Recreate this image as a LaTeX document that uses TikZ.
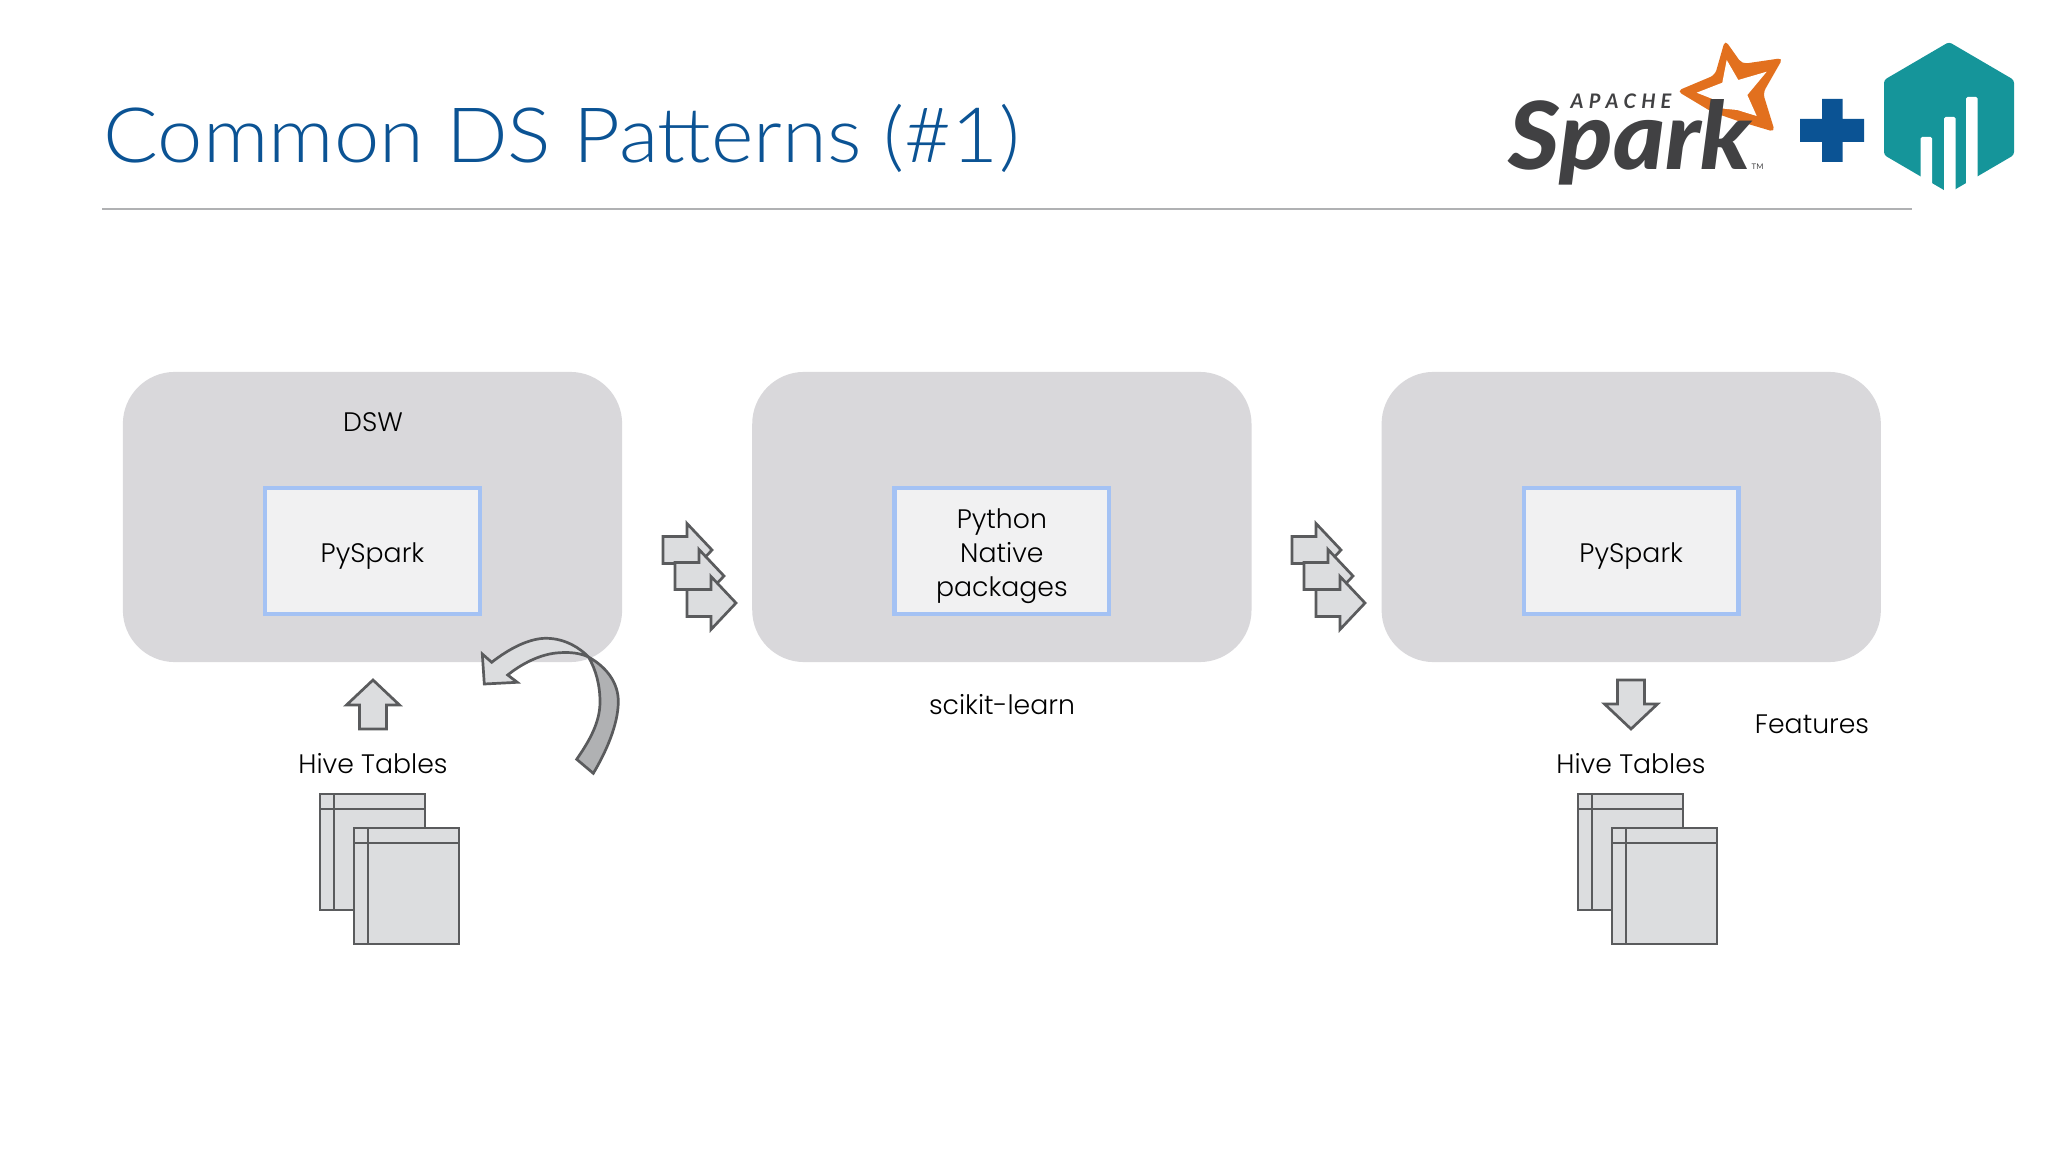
\documentclass[tikz,border=0pt]{standalone}
\usepackage{fontspec}
\usepackage{xcolor}
\usetikzlibrary{positioning}
\setmainfont{Poppins Light}
\newfontfamily\titlefont[FakeStretch=1.065]{Lato Light}
\newfontfamily\logofont[FakeStretch=1.055]{Lato Black Italic}
\newfontfamily\logosmall{Lato}
\definecolor{panelgray}{HTML}{D9D8DB}
\definecolor{boxfill}{HTML}{F1F1F2}
\definecolor{boxblue}{HTML}{A4C2F4}
\definecolor{shapeline}{HTML}{5A5B5D}
\definecolor{shapefill}{HTML}{DCDDDF}
\definecolor{foldfill}{HTML}{B0B1B3}
\definecolor{titleblue}{HTML}{0B5394}
\definecolor{sparkgray}{HTML}{414143}
\definecolor{sparkorange}{HTML}{E2701E}
\definecolor{hexteal}{HTML}{15959A}
\newcommand{\labelsize}{\fontsize{7.6}{9.67}\selectfont}
\tikzset{
    panel/.style={fill=panelgray, rounded corners=0.52cm, minimum width=4.99cm, minimum height=2.9cm, inner sep=0, outer sep=0},
    codebox/.style={draw=boxblue, fill=boxfill, line width=0.045cm, minimum width=2.145cm, minimum height=1.255cm},
    boxtext/.style={inner sep=0, align=center, yshift=-0.05cm, font=\labelsize},
    caption/.style={inner sep=0, anchor=base, font=\labelsize},
    shapeborder/.style={draw=shapeline, fill=shapefill, line width=0.027cm, line join=miter},
    blockarrow/.pic={
        \draw[shapeborder] (0,-13.5) -- (24,-13.5) -- (24,-26.5) -- (49,0) -- (24,26.5) -- (24,13.5) -- (0,13.5) -- cycle;
    },
    sheet/.pic={
        \draw[shapeborder] (0,0) rectangle (105,116);
        \draw[shapeborder] (0,15) -- (105,15);
        \draw[shapeborder] (14,0) -- (14,116);
    },
    sheetstack/.pic={
        \pic at (0,0) {sheet};
        \pic at (34,34) {sheet};
    }
}
\begin{document}
\begin{tikzpicture}[x=0.01cm, y=-0.01cm, node distance=1.3cm]
    \useasboundingbox (0,0) rectangle (2048,1152);
    \fill[white] (0,0) rectangle (2048,1152);

    \node[inner sep=0, anchor=base west, text=titleblue, font=\titlefont\fontsize{21.7}{26}\selectfont] (title) at (103,163) {Common DS Patterns (\#1)};
    \draw[foldfill, line width=0.02cm] (102,209) -- (1912,209);

    \node[panel] (dsw) at (372.5,517) {};
    \node[panel, right=of dsw] (native) {};
    \node[panel, right=of native] (output) {};

    \node[codebox, below=1.14cm of dsw.north] (pysparkin) {};
    \node[codebox, below=1.14cm of native.north] (pythonpkg) {};
    \node[codebox, below=1.14cm of output.north] (pysparkout) {};

    \node[boxtext] (pysparkintext) at (pysparkin) {PySpark};
    \node[boxtext] (pythontext) at (pythonpkg) {Python\\Native\\packages};
    \node[boxtext] (pysparkouttext) at (pysparkout) {PySpark};

    \node[caption] (dswlabel) at (373,432) {DSW};
    \node[caption] (hivein) at (373,773) {Hive Tables};
    \node[caption] (scikit) at (1002,715) {scikit-learn};
    \node[caption] (hiveout) at (1631,773) {Hive Tables};
    \node[caption] (features) at (1812,733) {Features};

    \pic (liftup) [rotate=90] at (373,729) {blockarrow};
    \pic (dropdown) [rotate=-90] at (1631,680) {blockarrow};

    \foreach \dx in {0,629} {
        \pic at (663+\dx,550) {blockarrow};
        \pic at (675+\dx,576) {blockarrow};
        \pic at (687+\dx,603) {blockarrow};
    }

    \pic at (320,794) {sheetstack};
    \pic at (1578,794) {sheetstack};

    \draw[shapeborder] (491.7,662.3) .. controls (510,648) and (530,638) .. (546.7,638.3)
        .. controls (565,638.5) and (580,648) .. (588.5,657)
        .. controls (580,653) and (570,652) .. (560,652.7)
        .. controls (540,653.5) and (520,665) .. (507.7,675)
        -- (517.3,682.3) -- (484.3,684) -- (482.3,654) -- cycle;
    \draw[shapeborder, fill=foldfill] (588.5,657) .. controls (608,668) and (618.5,684) .. (618.3,702)
        .. controls (618,725) and (606,752) .. (593.3,773.3)
        -- (576.7,759.3) .. controls (590,740) and (600,722) .. (600,702)
        .. controls (600,685) and (596,670) .. (588.5,657) -- cycle;

    \fill[sparkorange, rounded corners=0.05cm] (1725,40) -- (1742,64) -- (1783,58) -- (1763,93) -- (1775,132) -- (1738,121) -- (1712,112) -- (1677,91) -- (1715,75) -- cycle;
    \fill[white] (1726.7,60) -- (1738.3,80) -- (1766.7,71.7) -- (1747.3,95) -- (1756.7,116) -- (1737.3,110) -- (1716.7,108) -- (1715,100) -- (1696.7,92.7) -- (1722.3,82.7) -- cycle;
    \node[inner sep=0, anchor=base west, text=sparkgray, font=\logofont\fontsize{26.7}{30}\selectfont] (sparkword) at (1508,170) {Spark};
    \node[inner sep=0, anchor=base west, text=sparkgray, font=\logosmall\bfseries\itshape\fontsize{5.7}{7}\selectfont] (apache) at (1570,109) {A\kern1.45pt P\kern1.45pt A\kern1.45pt C\kern1.45pt H\kern1.45pt E};
    \node[inner sep=0, anchor=base west, text=sparkgray, font=\logosmall\fontsize{2.2}{3}\selectfont] (trademark) at (1751,170) {TM};

    \fill[titleblue] (1822,119) -- (1822,99) -- (1842.5,99) -- (1842.5,119) -- (1864,119) -- (1864,142) -- (1842.5,142) -- (1842.5,162) -- (1822,162) -- (1822,142) -- (1800,142) -- (1800,119) -- cycle;

    \fill[hexteal, rounded corners=0.03cm] (1949,42) -- (2014,80) -- (2014,155) -- (1949,193) -- (1884,155) -- (1884,80) -- cycle;
    \foreach \barx/\bartop in {1920.5/137, 1944/117, 1966/97} {
        \fill[white, rounded corners=0.015cm] (\barx,\bartop) rectangle (\barx+11.5,200);
    }
\end{tikzpicture}
\end{document}
